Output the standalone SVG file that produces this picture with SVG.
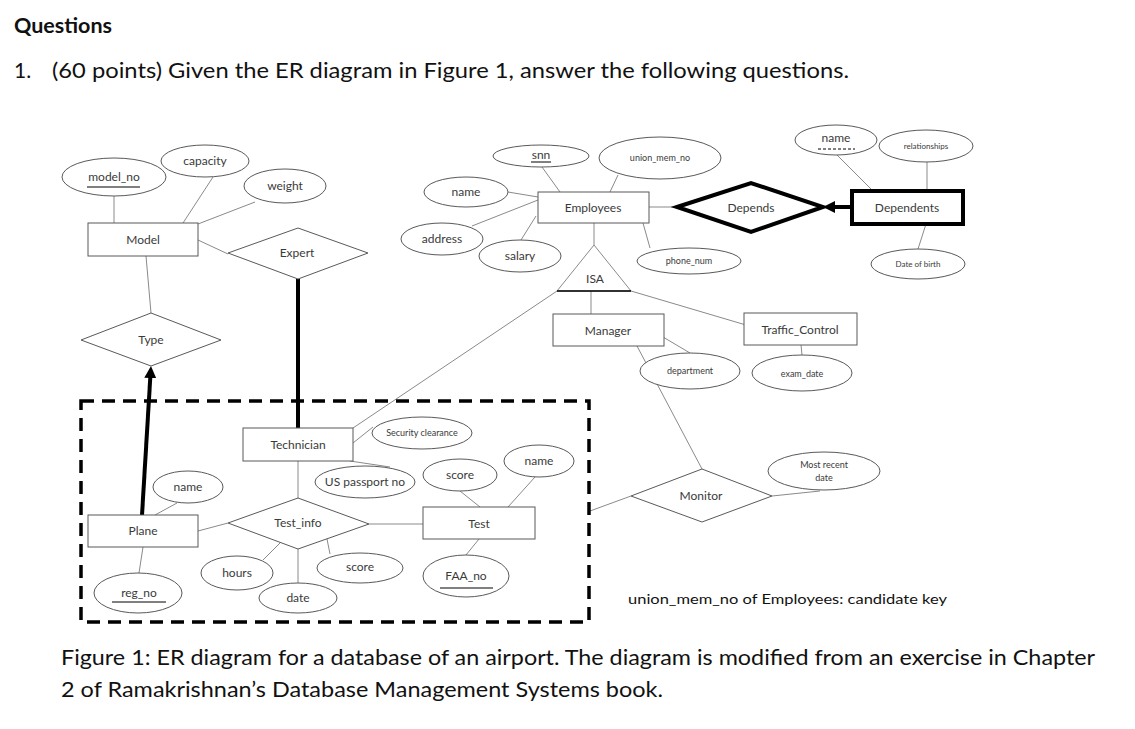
<svg xmlns="http://www.w3.org/2000/svg" width="1135" height="729" viewBox="0 0 1135 729">
<style>
.e{fill:#fff;stroke:#595959;stroke-width:1}
.r{fill:#fff;stroke:#595959;stroke-width:1}
.d{fill:#fff;stroke:#595959;stroke-width:1}
.ln{stroke:#8a8a8a;stroke-width:1;fill:none}
.thick{stroke:#000;stroke-width:4;fill:none}
.t{font-family:Lato,"Liberation Sans",sans-serif;font-size:12px;fill:#3a3a3a;text-anchor:middle}
.s{font-size:9px}
.xs{font-size:8px}
.ul{stroke:#000;stroke-width:1}
.h{font-family:Lato,"Liberation Sans",sans-serif;fill:#111}
</style>
<defs>
<marker id="ah" markerUnits="userSpaceOnUse" markerWidth="14" markerHeight="14" refX="4" refY="6" orient="auto">
<path d="M0,0 L12,6 L0,12 z" fill="#000"/>
</marker>
</defs>
<rect width="1135" height="729" fill="#fff"/>
<text class="h" x="14" y="33" font-size="21" font-weight="bold" textLength="98" lengthAdjust="spacingAndGlyphs">Questions</text>
<text class="h" x="14" y="78" font-size="21">1.</text>
<text class="h" x="52" y="78" font-size="21" textLength="797" lengthAdjust="spacingAndGlyphs">(60 points) Given the ER diagram in Figure 1, answer the following questions.</text>
<text class="h" x="61" y="665" font-size="21" textLength="1034" lengthAdjust="spacingAndGlyphs">Figure 1: ER diagram for a database of an airport. The diagram is modified from an exercise in Chapter</text>
<text class="h" x="61" y="697" font-size="21" textLength="602" lengthAdjust="spacingAndGlyphs">2 of Ramakrishnan’s Database Management Systems book.</text>
<text class="h" x="628" y="604" font-size="14" textLength="319" lengthAdjust="spacingAndGlyphs">union_mem_no of Employees: candidate key</text>

<g id="connectors">
<line class="ln" x1="114" y1="196" x2="114" y2="223"/>
<line class="ln" x1="213" y1="177" x2="183" y2="223"/>
<line class="ln" x1="255" y1="202" x2="198" y2="224"/>
<line class="ln" x1="198" y1="240" x2="228" y2="254"/>
<line class="ln" x1="146" y1="256" x2="151" y2="313"/>
<line class="thick" x1="142" y1="515" x2="150.5" y2="374" marker-end="url(#ah)"/>
<line class="thick" x1="298" y1="279" x2="298" y2="428"/>
<line class="ln" x1="542" y1="167" x2="560" y2="192"/>
<line class="ln" x1="508" y1="192" x2="538" y2="197"/>
<line class="ln" x1="472" y1="226" x2="538" y2="200"/>
<line class="ln" x1="536" y1="216" x2="521" y2="240"/>
<line class="ln" x1="618" y1="175" x2="610" y2="192"/>
<line class="ln" x1="643" y1="223" x2="650" y2="248"/>
<line class="ln" x1="649" y1="207" x2="677" y2="207"/>
<line class="thick" x1="852" y1="207" x2="831" y2="207" marker-end="url(#ah)"/>
<line class="ln" x1="837" y1="155" x2="873" y2="191"/>
<line class="ln" x1="927" y1="162" x2="927" y2="191"/>
<line class="ln" x1="926" y1="224" x2="918" y2="249"/>
<line class="ln" x1="594" y1="223" x2="594" y2="245"/>
<line class="ln" x1="591" y1="291" x2="591" y2="314"/>
<line class="ln" x1="557" y1="291" x2="353" y2="428"/>
<line class="ln" x1="631" y1="291" x2="746" y2="325"/>
<line class="ln" x1="801" y1="345" x2="802" y2="355"/>
<line class="ln" x1="663" y1="337" x2="690" y2="353"/>
<line class="ln" x1="637" y1="346" x2="702" y2="469"/>
<line class="ln" x1="631" y1="496" x2="590" y2="511"/>
<line class="ln" x1="772" y1="496" x2="820" y2="491"/>
<line class="ln" x1="353" y1="443" x2="373" y2="427"/>
<line class="ln" x1="350" y1="461" x2="390" y2="467"/>
<line class="ln" x1="298" y1="461" x2="298" y2="498"/>
<line class="ln" x1="198" y1="531" x2="228" y2="523"/>
<line class="ln" x1="155" y1="515" x2="177" y2="503"/>
<line class="ln" x1="143" y1="547" x2="139" y2="573"/>
<line class="ln" x1="280" y1="543" x2="263" y2="560"/>
<line class="ln" x1="298" y1="549" x2="298" y2="583"/>
<line class="ln" x1="327" y1="539" x2="330" y2="554"/>
<line class="ln" x1="369" y1="524" x2="423" y2="524"/>
<line class="ln" x1="460" y1="491" x2="480" y2="507"/>
<line class="ln" x1="535" y1="477" x2="508" y2="507"/>
<line class="ln" x1="479" y1="539" x2="466" y2="555"/>
</g>

<rect x="81" y="401" width="508" height="221" fill="none" stroke="#000" stroke-width="3.5" stroke-dasharray="13 8"/>

<g id="model_no"><ellipse class="e" cx="114" cy="177" rx="52" ry="19"/><text class="t" x="114" y="181">model_no</text><line class="ul" x1="87" y1="187" x2="140" y2="187"/></g>
<g id="capacity"><ellipse class="e" cx="205" cy="161" rx="44" ry="16"/><text class="t" x="205" y="165">capacity</text></g>
<g id="weight"><ellipse class="e" cx="285" cy="186" rx="41" ry="17"/><text class="t" x="285" y="190">weight</text></g>
<g id="Model"><rect class="r" x="88" y="223" width="110" height="33"/><text class="t" x="143" y="244">Model</text></g>
<g id="Expert"><polygon class="d" points="228,253 298,228 368,253 298,279"/><text class="t" x="297" y="257">Expert</text></g>
<g id="Type"><polygon class="d" points="81,340 151,313 221,340 151,366"/><text class="t" x="151" y="344">Type</text></g>

<g id="snn"><ellipse class="e" cx="541" cy="156" rx="48" ry="11"/><text class="t" x="541" y="159">snn</text><line class="ul" x1="531" y1="162" x2="551" y2="162"/></g>
<g id="union_mem_no"><ellipse class="e" cx="660" cy="158" rx="61" ry="21"/><text class="t s" x="660" y="161">union_mem_no</text></g>
<g id="emp_name"><ellipse class="e" cx="466" cy="192" rx="42" ry="15"/><text class="t" x="466" y="196">name</text></g>
<g id="address"><ellipse class="e" cx="442" cy="239" rx="41" ry="16"/><text class="t" x="442" y="243">address</text></g>
<g id="salary"><ellipse class="e" cx="520" cy="256" rx="41" ry="16"/><text class="t" x="520" y="260">salary</text></g>
<g id="phone_num"><ellipse class="e" cx="689" cy="261" rx="52" ry="13"/><text class="t s" x="689" y="264">phone_num</text></g>
<g id="Employees"><rect class="r" x="538" y="192" width="111" height="31"/><text class="t" x="593" y="212">Employees</text></g>
<g id="ISA"><polygon points="594,245 557,291 631,291" fill="#fff" stroke="#8a8a8a" stroke-width="1"/><line x1="557" y1="291" x2="631" y2="291" stroke="#000" stroke-width="1.5"/><text class="t" x="595" y="283">ISA</text></g>
<g id="Manager"><rect class="r" x="553" y="314" width="111" height="32"/><text class="t" x="608" y="335">Manager</text></g>
<g id="Traffic_Control"><rect class="r" x="744" y="313" width="113" height="32"/><text class="t" x="800" y="334">Traffic_Control</text></g>
<g id="department"><ellipse class="e" cx="690" cy="371" rx="50" ry="18"/><text class="t s" x="690" y="374">department</text></g>
<g id="exam_date"><ellipse class="e" cx="802" cy="373" rx="50" ry="18"/><text class="t s" x="802" y="377">exam_date</text></g>
<g id="Monitor"><polygon class="d" points="631,496 702,469 772,496 702,522"/><text class="t" x="701" y="500">Monitor</text></g>
<g id="most_recent_date"><ellipse class="e" cx="824" cy="471" rx="56" ry="19"/><text class="t s" x="824" y="468">Most recent</text><text class="t s" x="824" y="481">date</text></g>
<g id="Depends"><polygon points="677,207 751,183 823,207 751,232" fill="#fff" stroke="#000" stroke-width="4"/><text class="t" x="751" y="212">Depends</text></g>
<g id="Dependents"><rect x="852" y="191" width="111" height="33" fill="#fff" stroke="#000" stroke-width="4"/><text class="t" x="907" y="212">Dependents</text></g>
<g id="dep_name"><ellipse class="e" cx="836" cy="140" rx="41" ry="15"/><text class="t" x="836" y="142">name</text><line class="ul" x1="818" y1="149" x2="855" y2="149" stroke-dasharray="3 2"/></g>
<g id="relationships"><ellipse class="e" cx="926" cy="146" rx="47" ry="16"/><text class="t xs" x="926" y="149">relationships</text></g>
<g id="date_of_birth"><ellipse class="e" cx="918" cy="264" rx="47" ry="15"/><text class="t xs" x="918" y="267">Date of birth</text></g>

<g id="Technician"><rect class="r" x="243" y="428" width="110" height="33"/><text class="t" x="298" y="449">Technician</text></g>
<g id="security_clearance"><ellipse class="e" cx="422" cy="433" rx="50" ry="16"/><text class="t s" x="422" y="436">Security clearance</text></g>
<g id="us_passport_no"><ellipse class="e" cx="365" cy="482" rx="50" ry="16"/><text class="t" x="365" y="486">US passport no</text></g>
<g id="Test_info"><polygon class="d" points="228,523 298,498 369,524 298,549"/><text class="t" x="298" y="527">Test_info</text></g>
<g id="Plane"><rect class="r" x="88" y="515" width="110" height="32"/><text class="t" x="143" y="535">Plane</text></g>
<g id="plane_name"><ellipse class="e" cx="188" cy="487" rx="35" ry="16"/><text class="t" x="188" y="491">name</text></g>
<g id="reg_no"><ellipse class="e" cx="138" cy="593" rx="44" ry="20"/><text class="t" x="139" y="597">reg_no</text><line class="ul" x1="112" y1="602" x2="166" y2="602"/></g>
<g id="hours"><ellipse class="e" cx="237" cy="573" rx="36" ry="17"/><text class="t" x="237" y="577">hours</text></g>
<g id="date"><ellipse class="e" cx="298" cy="598" rx="39" ry="15"/><text class="t" x="298" y="602">date</text></g>
<g id="ti_score"><ellipse class="e" cx="360" cy="568" rx="43" ry="15"/><text class="t" x="360" y="571">score</text></g>
<g id="Test"><rect class="r" x="423" y="507" width="112" height="32"/><text class="t" x="479" y="528">Test</text></g>
<g id="test_score"><ellipse class="e" cx="460" cy="475" rx="37" ry="16"/><text class="t" x="460" y="479">score</text></g>
<g id="test_name"><ellipse class="e" cx="539" cy="461" rx="35" ry="16"/><text class="t" x="539" y="465">name</text></g>
<g id="FAA_no"><ellipse class="e" cx="466" cy="576" rx="43" ry="21"/><text class="t" x="466" y="580">FAA_no</text><line class="ul" x1="440" y1="588" x2="493" y2="588"/></g>
</svg>
